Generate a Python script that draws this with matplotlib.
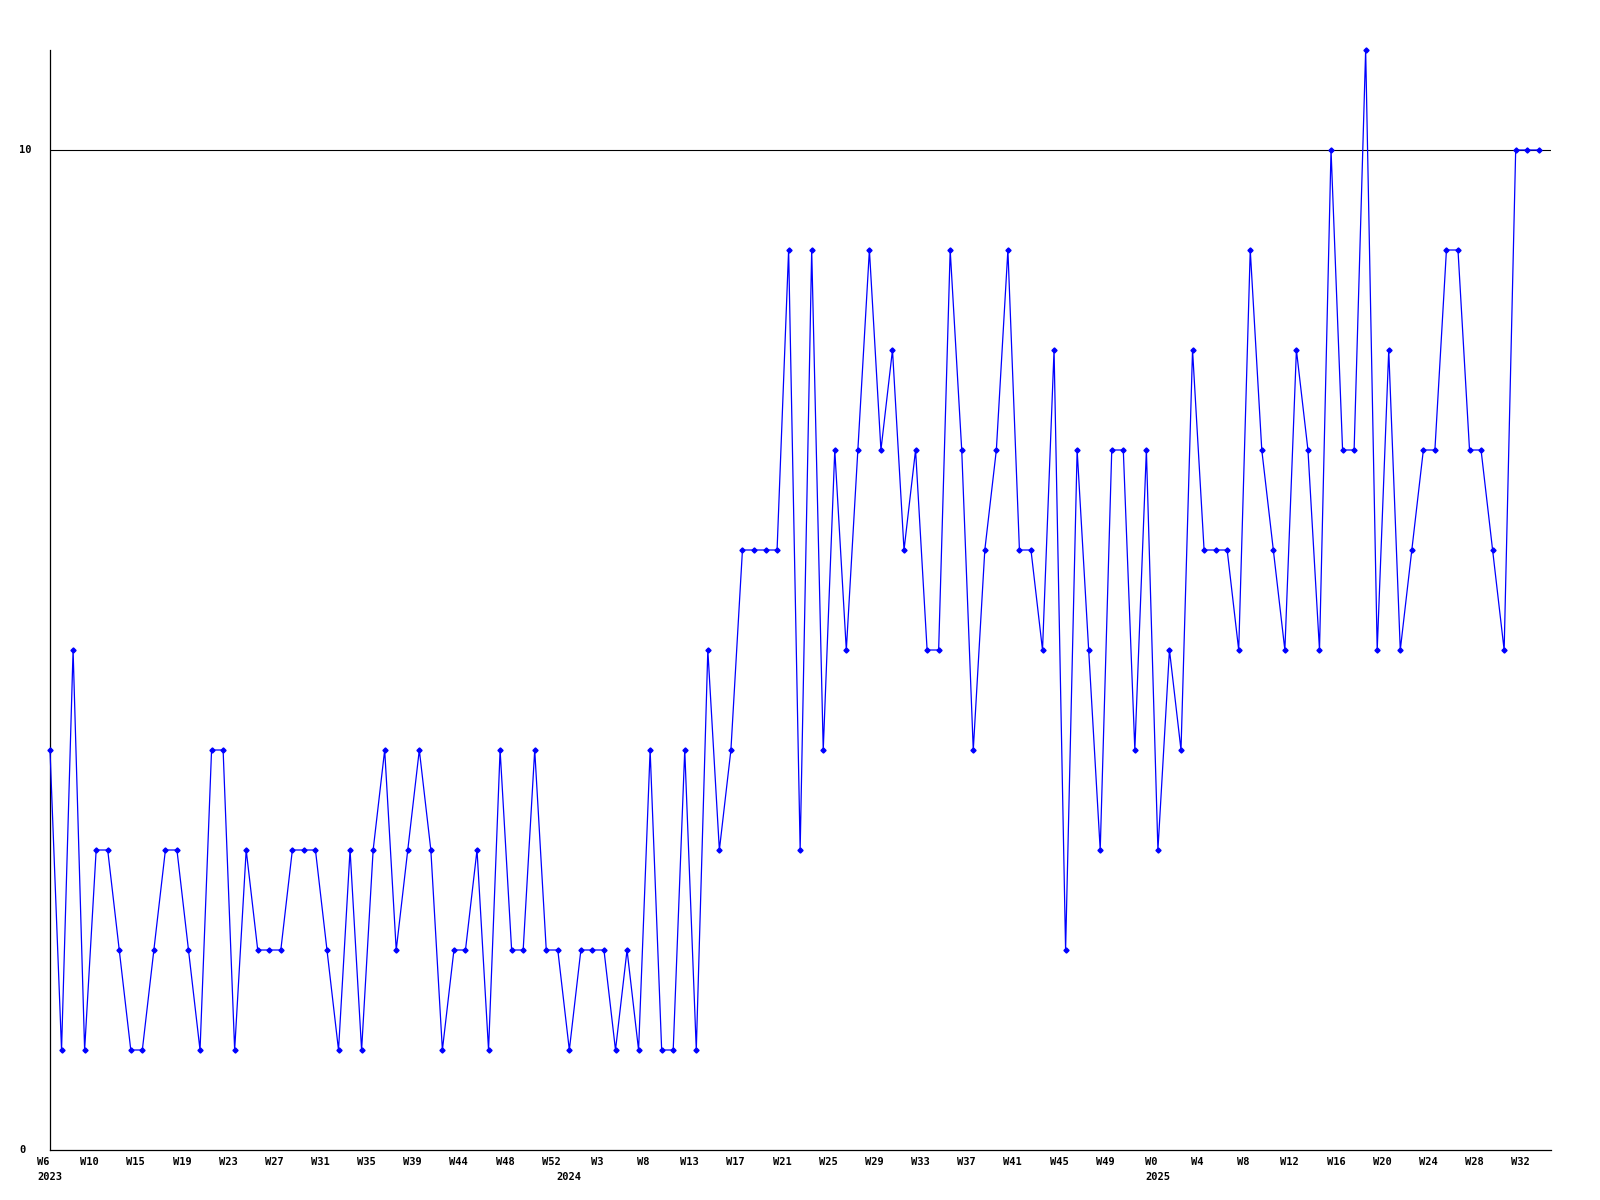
import matplotlib
matplotlib.use("Agg")
import matplotlib.pyplot as plt
from matplotlib.transforms import blended_transform_factory, offset_copy

# ---- data ----
values = [4, 1, 5, 1, 3, 3, 2, 1, 1, 2,
          3, 3, 2, 1, 4, 4, 1, 3, 2, 2,
          2, 3, 3, 3, 2, 1, 3, 1, 3, 4,
          2, 3, 4, 3, 1, 2, 2, 3, 1, 4,
          2, 2, 4, 2, 2, 1, 2, 2, 2, 1,
          2, 1, 4, 1, 1, 4, 1, 5, 3, 4,
          6, 6, 6, 6, 9, 3, 9, 4, 7, 5,
          7, 9, 7, 8, 6, 7, 5, 5, 9, 7,
          4, 6, 7, 9, 6, 6, 5, 8, 2, 7,
          5, 3, 7, 7, 4, 7, 3, 5, 4, 8,
          6, 6, 6, 5, 9, 7, 6, 5, 8, 7,
          5, 10, 7, 7, 11, 5, 8, 5, 6, 7,
          7, 9, 9, 7, 7, 6, 5, 10, 10, 10]

week_labels = ["W6", "W10", "W15", "W19", "W23", "W27", "W31", "W35", "W39",
               "W44", "W48", "W52", "W3", "W8", "W13", "W17", "W21", "W25",
               "W29", "W33", "W37", "W41", "W45", "W49", "W0", "W4", "W8",
               "W12", "W16", "W20", "W24", "W28", "W32"]
label_step = 4

year_labels = ["2023", "2024", "2025"]
year_start_index = [0, 45, 96]

y_tick_values = [0, 10]

# ---- figure ----
W, H = 1600, 1200
fig = plt.figure(figsize=(16, 12), dpi=100)
left_px, right_px, top_px, bottom_px = 50, 1551, 50, 1150
ax = fig.add_axes([left_px / W, 1 - bottom_px / H,
                   (right_px - left_px) / W, (bottom_px - top_px) / H])

x = list(range(len(values)))
ax.plot(x, values, color="#0000ff", linewidth=0.9, marker="D",
        markersize=2.6, markerfacecolor="#0000ff", markeredgecolor="#0000ff",
        zorder=3, clip_on=False)

ymax = max(values)
ax.set_ylim(0, ymax)
ax.set_xlim(0, len(values) - 1 + 1.06)

ax.axhline(10, color="black", linewidth=0.8, zorder=2)

for s in ["top", "right"]:
    ax.spines[s].set_visible(False)
for s in ["left", "bottom"]:
    ax.spines[s].set_linewidth(0.9)
    ax.spines[s].set_color("black")

ax.set_xticks([])
ax.set_yticks([])

font = dict(family="DejaVu Sans Mono", fontweight="bold", fontsize=7.5,
            color="black")

# y tick labels (left aligned at fixed figure x)
ytrans = blended_transform_factory(fig.transFigure, ax.transData)
for v in y_tick_values:
    ax.text(19.5 / W, v, str(v), transform=ytrans, ha="left", va="center",
            clip_on=False, **font)

# x week labels
xtrans = blended_transform_factory(ax.transData, ax.transAxes)
wk_trans = offset_copy(xtrans, fig=fig, x=-6.6, y=-12, units="dots")
for i, lab in enumerate(week_labels):
    ax.text(i * label_step, 0, lab, transform=wk_trans, ha="center",
            va="center", clip_on=False, **font)

yr_trans = offset_copy(xtrans, fig=fig, x=0, y=-27, units="dots")
for lab, idx in zip(year_labels, year_start_index):
    ax.text(idx, 0, lab, transform=yr_trans, ha="center", va="center",
            clip_on=False, **font)

fig.savefig("out.png", dpi=100, facecolor="white")
